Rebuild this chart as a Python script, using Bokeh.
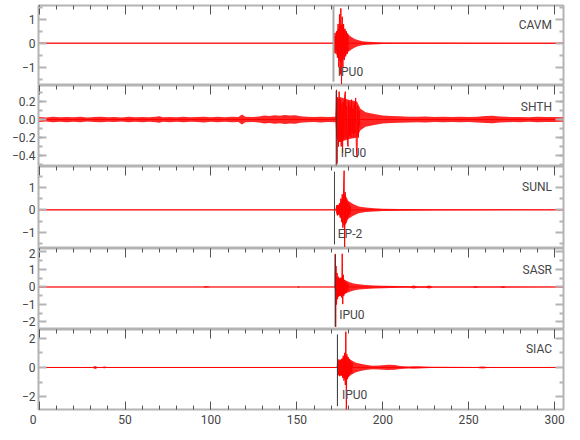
from bokeh.plotting import figure
from bokeh.layouts import column
from bokeh.models import Range1d, FixedTicker, LinearAxis, Label
from bokeh.embed import file_html
from bokeh.resources import INLINE

# ---------------- data ----------------
stations = ["CAVM", "SHTH", "SUNL", "SASR", "SIAC"]
phases = ["IPU0", "IPU0", "EP-2", "IPU0", "IPU0"]
pick_times = [171.3, 172.9, 171.9, 172.3, 173.6]
x_ticks = [0, 50, 100, 150, 200, 250, 300]

# envelope (half amplitude) of the background / coda band
cavm_env_t = [0, 171.0, 171.4, 173, 174.5, 176, 177.5, 179, 180, 182, 184, 186, 188, 191, 194, 200, 210, 305]
cavm_env_a = [0.015, 0.015, 0.4, 0.46, 0.7, 0.8, 0.6, 0.45, 0.35, 0.25, 0.17, 0.12, 0.08, 0.065, 0.055, 0.035, 0.025, 0.02]
# main wiggles
cavm_wig_t = [171.2, 171.6, 172.0, 172.4, 172.8, 173.2, 173.6, 174.0, 174.4, 174.8, 175.2, 175.6, 176.0, 176.4, 176.8, 177.2, 177.6, 178.0, 178.4, 178.8, 179.2, 179.6, 180.0]
cavm_wig_v = [0.0, 0.35, -0.4, 0.3, -0.35, 0.5, -0.6, 0.8, -1.0, 1.2, -1.3, 1.45, -1.7, 1.1, -1.0, 0.8, -0.7, 0.6, -0.55, 0.5, -0.45, 0.4, -0.3]

shth_env_t = [0, 4, 8, 12, 16, 20, 24, 28, 32, 36, 40, 44, 48, 52, 56, 60, 64, 68, 70, 72,
              76, 80, 84, 88, 92, 96, 100, 104, 108, 112, 116, 118, 120, 124, 128, 131, 134, 137, 140, 143,
              146, 149, 152, 156, 160, 164, 168, 172.5, 173, 175, 180, 185, 187, 190, 195, 200, 205, 210, 215, 220,
              225, 230, 235, 240, 245, 250, 255, 260, 264, 268, 272, 276, 280, 285, 290, 295, 300, 305]
shth_env_a = [0.028, 0.022, 0.03, 0.024, 0.029, 0.025, 0.031, 0.023, 0.027, 0.03,
              0.024, 0.028, 0.022, 0.03, 0.026, 0.029, 0.024, 0.03, 0.036, 0.026,
              0.029, 0.024, 0.03, 0.025, 0.028, 0.032, 0.026, 0.03, 0.024, 0.031,
              0.028, 0.055, 0.03, 0.027, 0.033, 0.045, 0.04, 0.048, 0.042, 0.05,
              0.044, 0.047, 0.035, 0.03, 0.027, 0.032, 0.028, 0.03, 0.2, 0.25,
              0.22, 0.2, 0.12, 0.08, 0.06, 0.045, 0.04, 0.035, 0.032, 0.03,
              0.034, 0.028, 0.031, 0.027, 0.03, 0.028, 0.032, 0.04, 0.042, 0.033,
              0.03, 0.027, 0.029, 0.026, 0.03, 0.027, 0.028, 0.026]
shth_wig_t = [172.8, 173.1, 173.4, 173.8, 174.2, 174.6, 175.0, 175.4, 175.8, 176.2, 176.6, 177.0, 177.4, 177.8, 178.2, 178.6, 179.0, 179.4, 179.8, 180.2, 180.6, 181.0, 181.4, 181.8, 182.2, 182.6, 183.0, 183.4, 183.8, 184.2, 184.6, 185.0, 185.4, 185.8, 186.2, 186.6]
shth_wig_v = [0.0, 0.33, -0.49, 0.25, -0.3, 0.31, -0.25, 0.22, -0.3, 0.18, -0.37, 0.2, -0.22, 0.26, 0.31, -0.2, 0.15, -0.25, -0.3, 0.2, -0.18, 0.15, -0.2, 0.22, -0.15, 0.12, -0.2, 0.18, -0.15, 0.24, -0.3, -0.42, 0.15, -0.2, 0.1, -0.08]

sunl_env_t = [0, 172.5, 173, 175, 177, 178, 180, 183, 186, 190, 195, 200, 210, 230, 305]
sunl_env_a = [0.02, 0.02, 0.2, 0.25, 0.7, 0.7, 0.4, 0.25, 0.15, 0.1, 0.07, 0.05, 0.035, 0.025, 0.02]
sunl_wig_t = [172.8, 173.2, 173.6, 174.0, 174.4, 174.8, 175.2, 175.6, 176.0, 176.4, 176.8, 177.2, 177.5, 177.8, 178.1, 178.5, 178.9, 179.3, 179.7, 180.1, 180.5, 180.9, 181.3]
sunl_wig_v = [0.0, 0.2, -0.25, 0.22, -0.2, 0.3, -0.35, 0.5, -0.55, 0.7, -0.8, 1.0, 1.75, -1.66, 0.8, -0.6, 0.45, -0.4, 0.35, -0.3, 0.25, -0.2, 0.15]

sasr_env_t = [0, 95, 97, 100, 150, 151, 152, 172.0, 172.5, 174, 176, 178, 180, 183, 186, 190, 195, 200, 210, 216, 218, 220, 225, 227, 229, 252, 254, 256, 268, 270, 272, 305]
sasr_env_a = [0.02, 0.02, 0.05, 0.02, 0.02, 0.05, 0.02, 0.02, 0.6, 0.5, 0.55, 0.4, 0.3, 0.2, 0.15, 0.12, 0.09, 0.07, 0.05, 0.04, 0.08, 0.04, 0.04, 0.08, 0.03, 0.03, 0.06, 0.03, 0.03, 0.06, 0.03, 0.02]
sasr_wig_t = [172.2, 172.4, 172.6, 172.8, 173.1, 173.4, 173.7, 174.0, 174.3, 174.6, 174.9, 175.2, 175.5, 175.8, 176.1, 176.4, 176.7, 177.0, 177.3, 177.6, 178.0, 178.4, 178.8, 179.2, 179.6, 180.0]
sasr_wig_v = [0.0, 1.89, -2.28, 1.2, -1.0, 0.8, -0.7, 0.6, -0.55, 0.5, -0.5, 0.45, -0.45, 0.5, -0.6, 1.9, -0.98, 0.7, -0.5, 0.4, -0.35, 0.3, -0.3, 0.25, -0.2, 0.15]

siac_env_t = [0, 31, 32.5, 34, 36, 38, 40, 173.4, 173.8, 176, 178, 179, 181, 184, 187, 190, 194, 198, 203, 207, 210, 215, 218, 221, 224, 228, 255, 258, 261, 270, 305]
siac_env_a = [0.02, 0.02, 0.1, 0.03, 0.02, 0.06, 0.02, 0.02, 0.55, 0.55, 0.8, 0.8, 0.55, 0.34, 0.25, 0.18, 0.12, 0.14, 0.18, 0.16, 0.1, 0.07, 0.09, 0.08, 0.06, 0.04, 0.03, 0.07, 0.03, 0.025, 0.02]
siac_wig_t = [173.5, 173.8, 174.2, 174.6, 175.0, 175.4, 175.8, 176.2, 176.6, 177.0, 177.4, 177.8, 178.2, 178.5, 178.8, 179.1, 179.5, 179.9, 180.3, 180.7, 181.1, 181.5, 181.9, 182.3]
siac_wig_v = [0.0, 0.55, -0.5, 0.45, -0.6, 0.5, -0.55, 0.6, -0.7, 0.8, -0.9, 1.0, -1.2, 2.45, -2.88, 0.9, -0.8, 0.7, -0.6, 0.55, -0.45, 0.4, -0.35, 0.3]

env_t = [cavm_env_t, shth_env_t, sunl_env_t, sasr_env_t, siac_env_t]
env_a = [cavm_env_a, shth_env_a, sunl_env_a, sasr_env_a, siac_env_a]
wig_t = [cavm_wig_t, shth_wig_t, sunl_wig_t, sasr_wig_t, siac_wig_t]
wig_v = [cavm_wig_v, shth_wig_v, sunl_wig_v, sasr_wig_v, siac_wig_v]

# ---------------- layout / style ----------------
FONT = "Roboto"
AX_GRAY = "#b4b4b4"
TXT = "#454545"
RED = "#ff0000"

layout_cfg = [
    dict(h=80, top=5, yr=(-1.76, 1.57), major=[-1, 0, 1], minor=[-1.5, -0.5, 0.5, 1.5],
         lab={-1: "\u22121", 0: "0", 1: "1"}, name_y=0.74, ph_y=-1.21, ph_dx=2.5,
         pk=(-1.6, 1.57), pk_col="#a8a8a8", pk_w=2),
    dict(h=81, top=0, yr=(-0.522, 0.378), major=[-0.4, -0.2, 0.0, 0.2],
         minor=[-0.5, -0.4, -0.3, -0.2, -0.1, 0.0, 0.1, 0.2, 0.3],
         lab={-0.4: "\u22120.4", -0.2: "\u22120.2", 0: "0.0", 0.2: "0.2"},
         name_y=0.144, ph_y=-0.374, ph_dx=2.7,
         pk=(-0.51, 0.32), pk_col="#333333", pk_w=1),
    dict(h=82, top=0, yr=(-1.73, 1.94), major=[-1, 0, 1], minor=[-1.5, -0.5, 0.5, 1.5],
         lab={-1: "\u22121", 0: "0", 1: "1"}, name_y=1.01, ph_y=-1.07, ph_dx=1.9,
         pk=(-1.55, 1.71), pk_col="#444444", pk_w=1),
    dict(h=81, top=0, yr=(-2.43, 2.2), major=[-2, -1, 0, 1, 2], minor=[-1.5, -0.5, 0.5, 1.5],
         lab={-2: "\u22122", -1: "\u22121", 0: "0", 1: "1", 2: "2"},
         name_y=0.98, ph_y=-1.61, ph_dx=2.3,
         pk=(-2.26, 1.85), pk_col="#333333", pk_w=1),
    dict(h=80, top=0, yr=(-2.88, 2.6), major=[-2, 0, 2], minor=[-1, 1],
         lab={-2: "\u22122", 0: "0", 2: "2"}, name_y=1.28, ph_y=-1.92, ph_dx=2.6,
         pk=(-2.65, 2.26), pk_col="#333333", pk_w=1),
]

x_minor = list(range(0, 310, 10))
figs = []
n = len(stations)
for i in range(n):
    cfg = layout_cfg[i]
    last = (i == n - 1)
    bottom_border = 22 if last else 0
    p = figure(width=565, height=cfg["h"] + bottom_border + cfg["top"],
               x_range=Range1d(-0.4, 305.2), y_range=Range1d(*cfg["yr"]),
               x_axis_location="above", y_axis_location="left",
               min_border_left=38, min_border_right=2, min_border_top=cfg["top"],
               min_border_bottom=bottom_border,
               output_backend="svg", toolbar_location=None)
    p.grid.visible = False
    p.outline_line_color = AX_GRAY
    p.outline_line_width = 2
    p.background_fill_color = "white"
    p.border_fill_color = "white"

    # top axis: ticks inward, no labels
    xa = p.xaxis[0]
    xa.ticker = FixedTicker(ticks=x_ticks, minor_ticks=x_minor)
    xa.major_tick_in = 9
    xa.major_tick_out = 0
    xa.minor_tick_in = 4
    xa.minor_tick_out = 0
    xa.major_tick_line_color = "#555555"
    xa.minor_tick_line_color = "#555555"
    xa.axis_line_color = None
    xa.major_label_text_color = None
    xa.major_label_text_font_size = "0px"
    xa.major_label_standoff = 0

    # left axis
    ya = p.yaxis[0]
    ya.ticker = FixedTicker(ticks=cfg["major"], minor_ticks=cfg["minor"])
    ya.major_label_overrides = cfg["lab"]
    ya.major_tick_in = 8
    ya.major_tick_out = 0
    ya.minor_tick_in = 4
    ya.minor_tick_out = 0
    ya.major_tick_line_color = AX_GRAY
    ya.minor_tick_line_color = AX_GRAY
    ya.major_tick_line_width = 2
    ya.minor_tick_line_width = 2
    ya.axis_line_color = None
    ya.major_label_text_font = FONT
    ya.major_label_text_font_size = "12px"
    ya.major_label_text_color = TXT
    ya.major_label_standoff = 3

    # right axis
    ra = LinearAxis(ticker=FixedTicker(ticks=cfg["major"], minor_ticks=cfg["minor"]),
                    major_tick_in=8, major_tick_out=0, minor_tick_in=4, minor_tick_out=0,
                    major_tick_line_color=AX_GRAY, minor_tick_line_color=AX_GRAY,
                    major_tick_line_width=2, minor_tick_line_width=2,
                    axis_line_color=None, major_label_text_color=None,
                    major_label_text_font_size="0px", major_label_standoff=0)
    p.add_layout(ra, "right")

    if last:
        ba = LinearAxis(ticker=FixedTicker(ticks=x_ticks, minor_ticks=x_minor),
                        major_tick_in=8, major_tick_out=0, minor_tick_in=4, minor_tick_out=0,
                        major_tick_line_color="#555555", minor_tick_line_color="#555555",
                        axis_line_color=None,
                        major_label_text_font=FONT, major_label_text_font_size="12px",
                        major_label_text_color=TXT, major_label_standoff=3,
                        major_label_overrides={0: "0\u2003"})
        p.add_layout(ba, "below")

    # trace
    et = env_t[i]
    ea = env_a[i]
    p.varea(x=et, y1=[-a for a in ea], y2=ea, fill_color=RED, fill_alpha=0.85)
    p.line(et, [0.0 for _ in et], line_color=RED, line_width=1)
    p.line(wig_t[i], wig_v[i], line_color=RED, line_width=1)

    # pick marker
    tpk = pick_times[i]
    p.segment(x0=[tpk], y0=[cfg["pk"][0]], x1=[tpk], y1=[cfg["pk"][1]],
              line_color=cfg["pk_col"], line_width=cfg["pk_w"])

    p.add_layout(Label(x=tpk + cfg["ph_dx"], y=cfg["ph_y"], text=phases[i],
                       text_font=FONT, text_font_size="12px", text_color=TXT,
                       text_baseline="middle", text_align="left"))
    p.add_layout(Label(x=298.5, y=cfg["name_y"], text=stations[i],
                       text_font=FONT, text_font_size="12px", text_color=TXT,
                       text_baseline="middle", text_align="right"))
    figs.append(p)

layout = column(*figs, spacing=0)
open("out.html", "w").write(file_html(layout, INLINE))
